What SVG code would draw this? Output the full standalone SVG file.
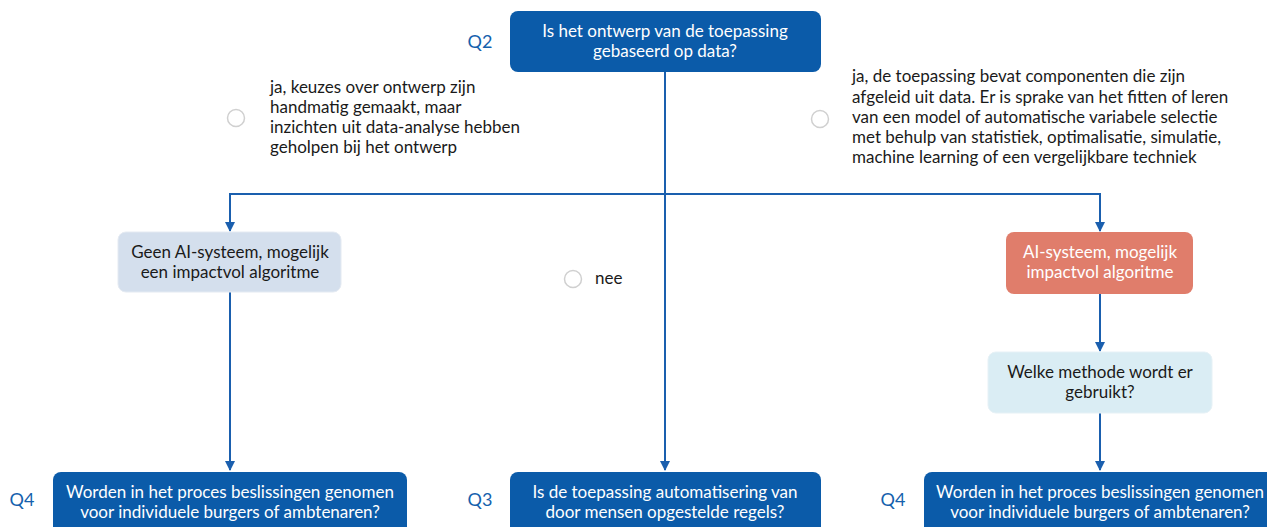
<svg xmlns="http://www.w3.org/2000/svg" width="1267" height="527" viewBox="0 0 1267 527">
<defs>
<marker id="arr" viewBox="0 0 10 10" refX="9" refY="5" markerWidth="5" markerHeight="5" orient="auto"><path d="M0,0 L10,5 L0,10 z" fill="#1a5fae"/></marker>
<style>
text{font-family:Lato,"Noto Sans",sans-serif;font-size:17px}
.q{fill:#0b5ba9}
.w{fill:#ffffff;text-anchor:middle}
.b{fill:#1a1a1a;text-anchor:middle}
.t{fill:#1a1a1a}
.lbl{fill:#1561ad;font-size:18px;text-anchor:middle}
.rad{fill:#fff;stroke:#d0d0d0;stroke-width:1.5}
.c{fill:none;stroke:#1a5fae;stroke-width:2}
</style>
</defs>
<rect width="1267" height="527" fill="#fff"/>
<g id="connectors">
<path class="c" d="M665,72 V470" marker-end="url(#arr)"/>
<path class="c" d="M230,231 V194 H1100 V231" />
<path class="c" d="M230,194 V231" marker-end="url(#arr)"/>
<path class="c" d="M1100,194 V231" marker-end="url(#arr)"/>
<path class="c" d="M230,292 V470" marker-end="url(#arr)"/>
<path class="c" d="M1100,294 V351" marker-end="url(#arr)"/>
<path class="c" d="M1100,413 V470" marker-end="url(#arr)"/>
</g>
<g id="q2">
<text class="lbl" x="480" y="48">Q2</text>
<rect class="q" x="510" y="11" width="311" height="61" rx="8"/>
<text class="w" x="665" y="37">Is het ontwerp van de toepassing</text>
<text class="w" x="665" y="57">gebaseerd op data?</text>
</g>
<g id="opt-left">
<circle class="rad" cx="236" cy="118" r="8.5"/>
<text class="t" x="270" y="93">ja, keuzes over ontwerp zijn</text>
<text class="t" x="270" y="113">handmatig gemaakt, maar</text>
<text class="t" x="270" y="133">inzichten uit data-analyse hebben</text>
<text class="t" x="270" y="153">geholpen bij het ontwerp</text>
</g>
<g id="opt-right">
<circle class="rad" cx="820" cy="119" r="8.5"/>
<text class="t" x="852" y="82">ja, de toepassing bevat componenten die zijn</text>
<text class="t" x="852" y="103">afgeleid uit data. Er is sprake van het fitten of leren</text>
<text class="t" x="852" y="123">van een model of automatische variabele selectie</text>
<text class="t" x="852" y="143">met behulp van statistiek, optimalisatie, simulatie,</text>
<text class="t" x="852" y="163">machine learning of een vergelijkbare techniek</text>
</g>
<g id="opt-nee">
<circle class="rad" cx="573" cy="279" r="8.5"/>
<text class="t" x="595" y="284">nee</text>
</g>
<g id="geen-ai">
<rect x="118" y="232" width="223" height="60" rx="8" fill="#d4dfed" stroke="#e4eaf2"/>
<text class="b" x="230" y="258">Geen AI-systeem, mogelijk</text>
<text class="b" x="230" y="278">een impactvol algoritme</text>
</g>
<g id="ai">
<rect x="1006" y="232" width="187" height="62" rx="8" fill="#e07d6b"/>
<text class="w" x="1100" y="258">AI-systeem, mogelijk</text>
<text class="w" x="1100" y="278">impactvol algoritme</text>
</g>
<g id="methode">
<rect x="988" y="352" width="224" height="61" rx="8" fill="#daedf4" stroke="#e6f1f6"/>
<text class="b" x="1100" y="378">Welke methode wordt er</text>
<text class="b" x="1100" y="398">gebruikt?</text>
</g>
<g id="q4-left">
<text class="lbl" x="22" y="506">Q4</text>
<rect class="q" x="53" y="472" width="354" height="70" rx="8"/>
<text class="w" x="230" y="498">Worden in het proces beslissingen genomen</text>
<text class="w" x="230" y="518">voor individuele burgers of ambtenaren?</text>
</g>
<g id="q3">
<text class="lbl" x="480" y="506">Q3</text>
<rect class="q" x="510" y="472" width="311" height="70" rx="8"/>
<text class="w" x="665" y="498">Is de toepassing automatisering van</text>
<text class="w" x="665" y="518">door mensen opgestelde regels?</text>
</g>
<g id="q4-right">
<text class="lbl" x="893" y="506">Q4</text>
<rect class="q" x="924" y="472" width="354" height="70" rx="8"/>
<text class="w" x="1100" y="498">Worden in het proces beslissingen genomen</text>
<text class="w" x="1100" y="518">voor individuele burgers of ambtenaren?</text>
</g>
</svg>
